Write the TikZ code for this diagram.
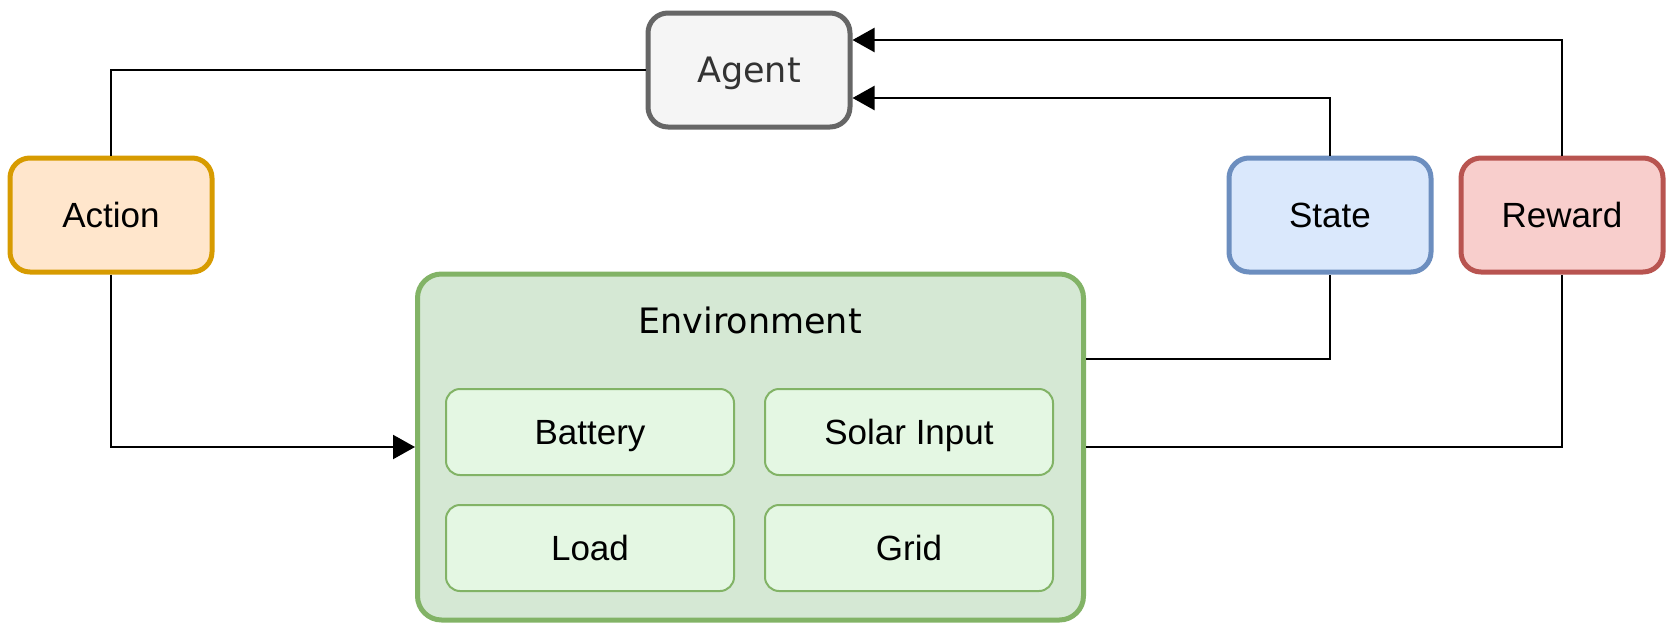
\documentclass[tikz,border=0pt]{standalone}
\usepackage{fontspec}
\setmainfont{Liberation Sans}
\newfontfamily\dejavu{DejaVu Sans}
\usetikzlibrary{arrows.meta}
\definecolor{agentfill}{HTML}{F5F5F5}
\definecolor{agentline}{HTML}{666666}
\definecolor{agenttext}{HTML}{333333}
\definecolor{actfill}{HTML}{FFE6CC}
\definecolor{actline}{HTML}{D79B00}
\definecolor{stfill}{HTML}{DAE8FC}
\definecolor{stline}{HTML}{6C8EBF}
\definecolor{rwfill}{HTML}{F8CECC}
\definecolor{rwline}{HTML}{B85450}
\definecolor{envfill}{HTML}{D5E8D4}
\definecolor{envline}{HTML}{82B366}
\definecolor{subfill}{HTML}{E4F7E3}
\tikzset{
  box/.style={draw, line width=2.5pt, rounded corners=10pt, minimum width=101pt, minimum height=57pt, inner sep=0pt, text depth=0pt, font=\fontsize{17.5}{20}\selectfont},
  subbox/.style={draw=envline, fill=subfill, line width=1pt, rounded corners=7pt, minimum width=144pt, minimum height=43pt, inner sep=0pt, text depth=0pt, font=\fontsize{17.5}{20}\selectfont},
  conn/.style={draw=black, line width=1.1pt},
  arr/.style={conn, -{Triangle[length=11pt,width=12pt]}}
}
\begin{document}
\begin{tikzpicture}[x=0.5pt,y=-0.5pt]
\useasboundingbox (0,0) rectangle (1672,632);
\node[box, draw=agentline, fill=agentfill, text=agenttext, font=\dejavu\fontsize{17.5}{20}\selectfont] (agent) at (749,70) {Agent};
\node[box, draw=actline, fill=actfill] (action) at (111,215) {Action};
\node[box, draw=stline, fill=stfill] (state) at (1330,215) {State};
\node[box, draw=rwline, fill=rwfill] (reward) at (1562,215) {Reward};
\node[draw=envline, fill=envfill, line width=2.5pt, rounded corners=12pt, minimum width=333pt, minimum height=173pt, inner sep=0pt] (env) at (750.5,447) {};
\node[font=\dejavu\fontsize{17.5}{20}\selectfont, text depth=0pt] (envlabel) at (750,320) {Environment};
\node[subbox] (battery) at (590,432) {Battery};
\node[subbox] (solar) at (909,432) {Solar Input};
\node[subbox] (load) at (590,548) {Load};
\node[subbox] (grid) at (909,548) {Grid};
\coordinate (yreward) at (0,40);
\coordinate (ystate) at (0,98);
\coordinate (yenvst) at (0,359);
\draw[conn] (agent.west) -| (action.north);
\draw[arr] (action.south) |- (env.west);
\draw[conn] (env.east |- yenvst) -| (state.south);
\draw[arr] (state.north) |- (agent.east |- ystate);
\draw[conn] (env.east) -| (reward.south);
\draw[arr] (reward.north) |- (agent.east |- yreward);
\end{tikzpicture}
\end{document}
